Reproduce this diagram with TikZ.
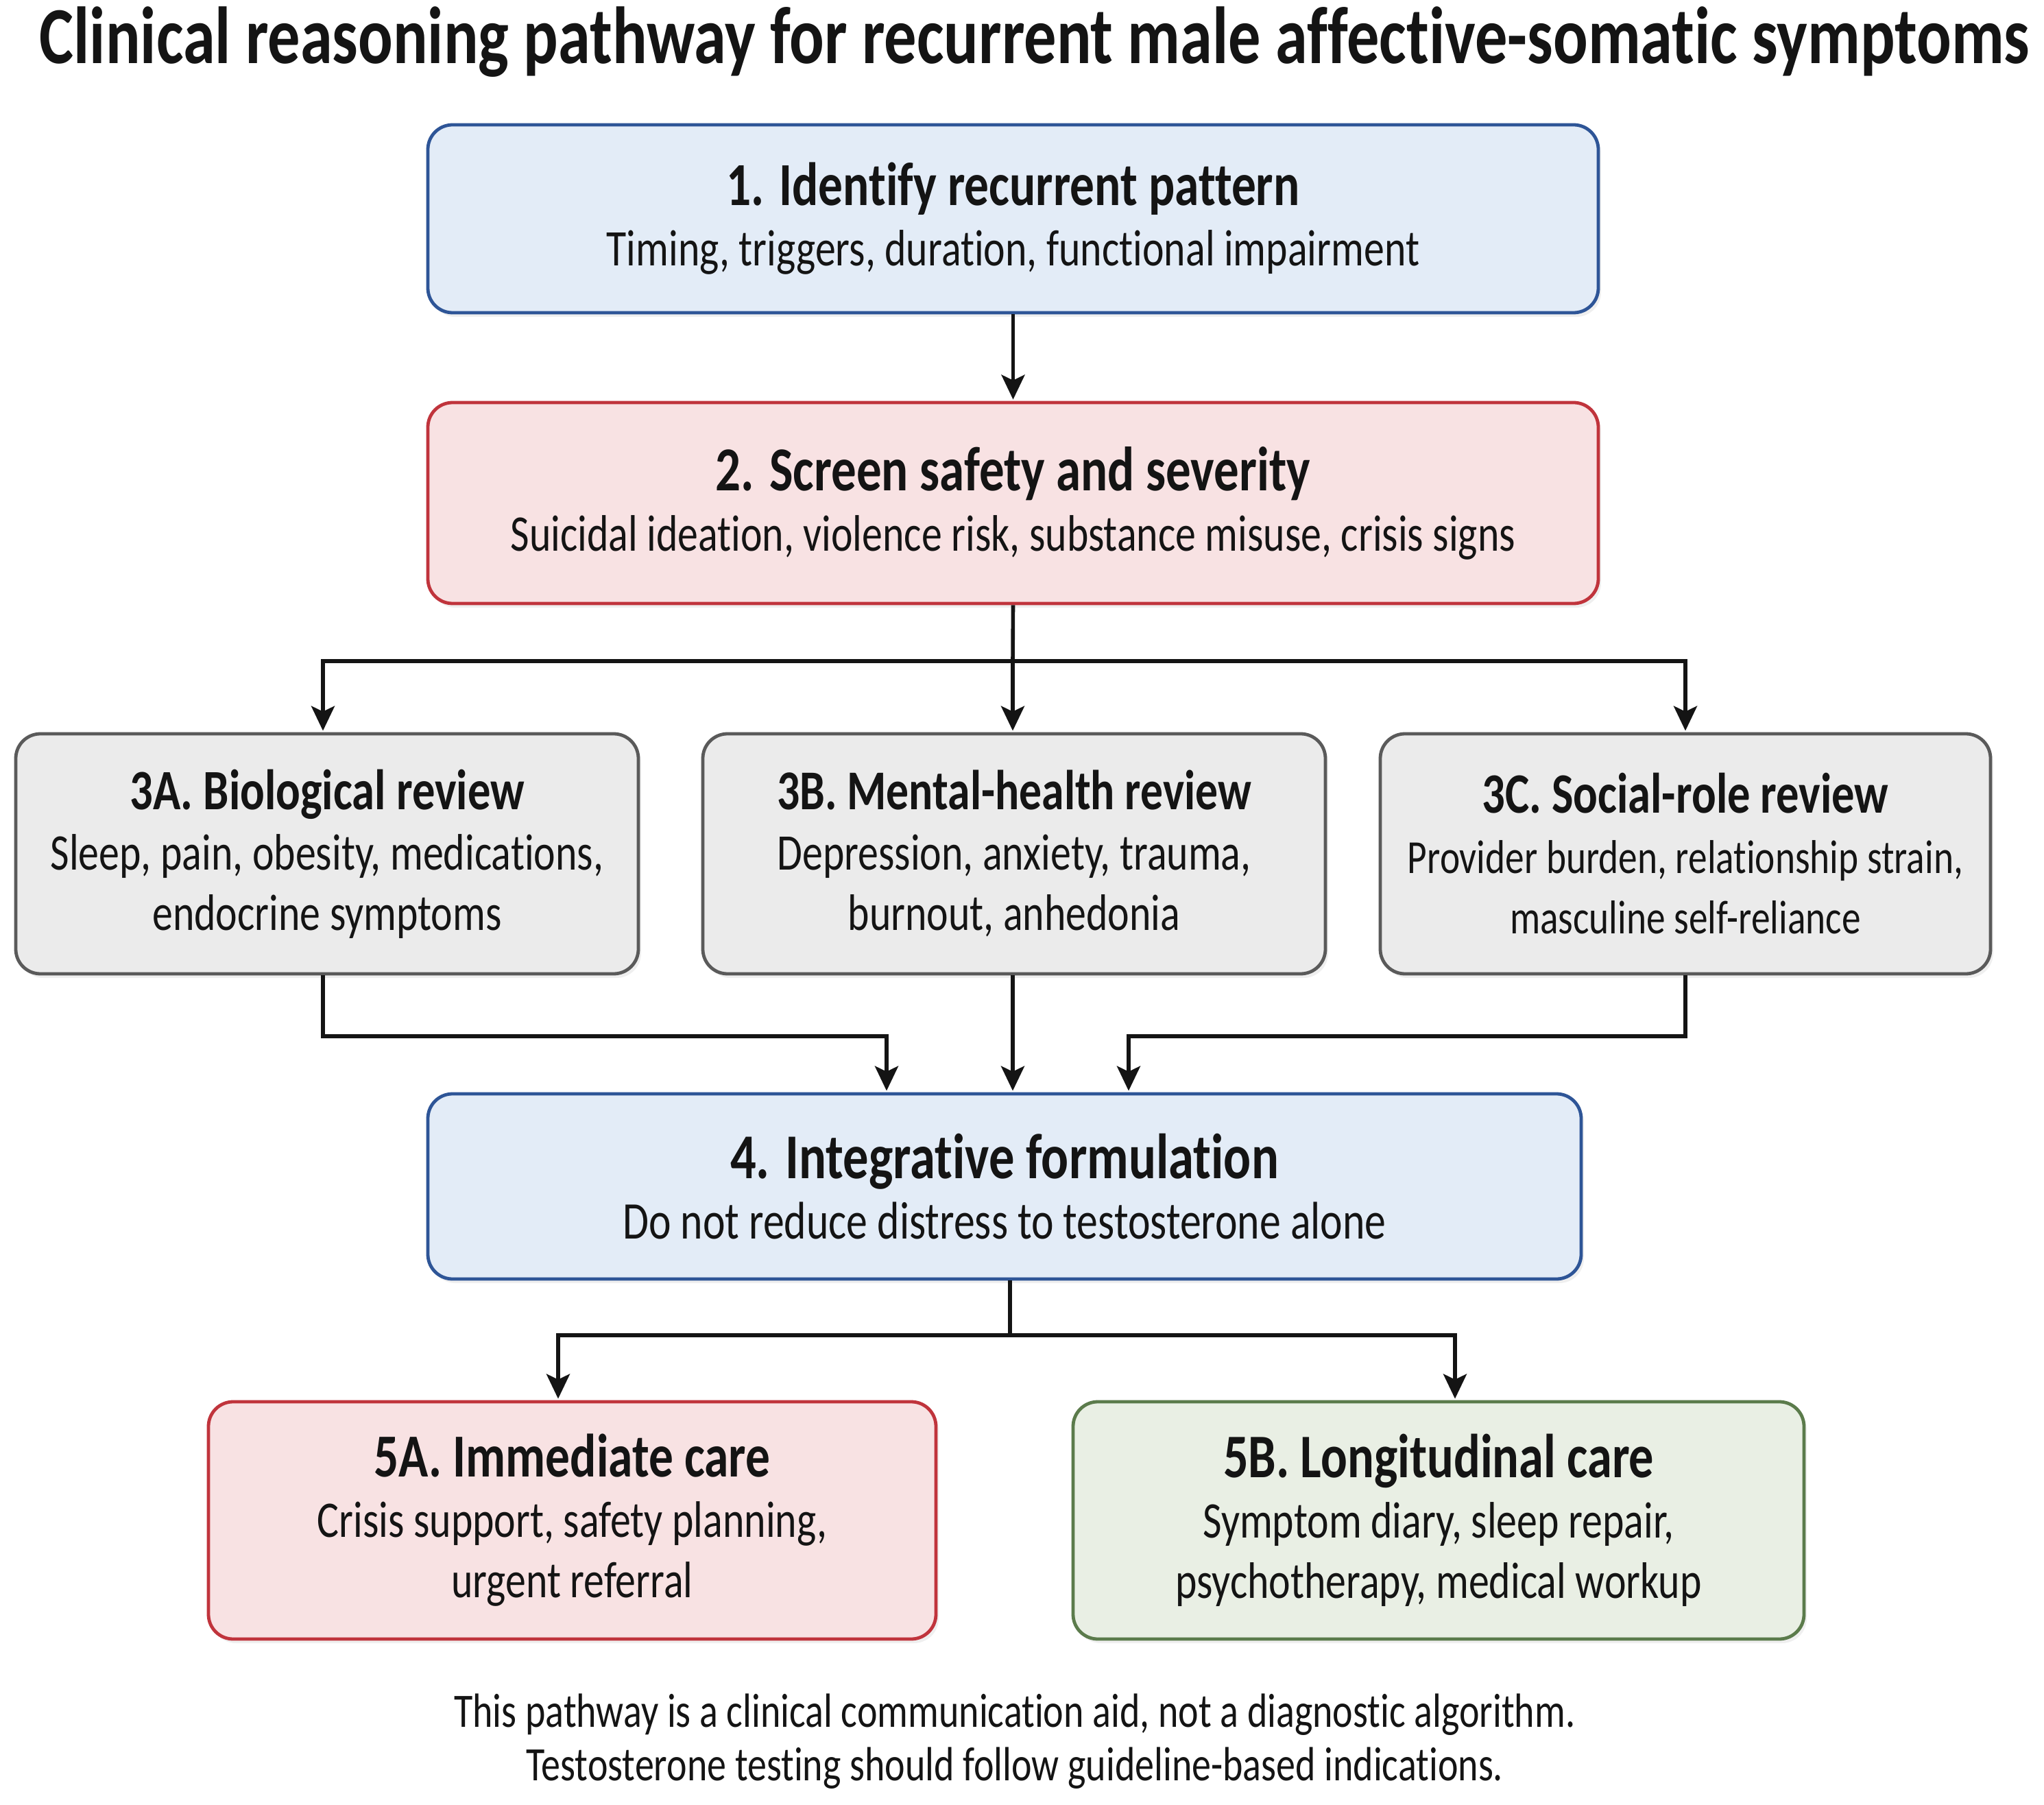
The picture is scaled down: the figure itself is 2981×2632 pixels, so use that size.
\documentclass[tikz,border=0pt]{standalone}
\usepackage{fontspec}
\setmainfont{Carlito}[FakeStretch=0.8,Ligatures=NoCommon]
\usetikzlibrary{arrows.meta,shadows}
\definecolor{blueFill}{HTML}{E3ECF7}
\definecolor{blueLine}{HTML}{2E5597}
\definecolor{redFill}{HTML}{F8E2E3}
\definecolor{redLine}{HTML}{C0343C}
\definecolor{grayFill}{HTML}{EBEBEB}
\definecolor{grayLine}{HTML}{5A5A5A}
\definecolor{greenFill}{HTML}{E9EFE4}
\definecolor{greenLine}{HTML}{5B7B4B}
\definecolor{inkc}{HTML}{141414}
\newcommand\boxhead[2][22.3]{{\fontsize{#1}{22}\selectfont\bfseries #2}}
\begin{document}
\begin{tikzpicture}[x=0.25pt,y=-0.25pt,
  box/.style={draw, rounded corners=9pt, line width=1.2pt, align=center,
    inner sep=0pt, text=inkc, font=\fontsize{18.7}{22}\selectfont,
    drop shadow={shadow xshift=1pt, shadow yshift=-1.5pt, opacity=0.12}},
  bluebox/.style={box, fill=blueFill, draw=blueLine},
  redbox/.style={box, fill=redFill, draw=redLine},
  graybox/.style={box, fill=grayFill, draw=grayLine},
  greenbox/.style={box, fill=greenFill, draw=greenLine},
  arr/.style={-{Stealth[length=9pt,width=8.5pt,inset=2pt]}, line width=1.4pt, draw=inkc, shorten >=0.5pt},
  ln/.style={line width=1.4pt, draw=inkc}]
\path[use as bounding box, fill=white] (0,0) rectangle (2981,2632);

\node[text=inkc, font=\fontsize{29.5}{32}\selectfont\bfseries] (title) at (1509,61)
  {Clinical reasoning pathway for recurrent male affective-somatic symptoms};

\node[bluebox, minimum width=426.75pt, minimum height=68.5pt] (b1) at (1477.5,319)
  {\boxhead{1. Identify recurrent pattern}\\Timing, triggers, duration, functional impairment};
\node[redbox, minimum width=426.75pt, minimum height=73.25pt] (b2) at (1477.5,733.5)
  {\boxhead[22.8]{2. Screen safety and severity}\\Suicidal ideation, violence risk, substance misuse, crisis signs};

\node[graybox, minimum width=227pt, minimum height=87.5pt] (b3a) at (477,1245)
  {\boxhead[20.8]{3A. Biological review}\\Sleep, pain, obesity, medications,\\endocrine symptoms};
\node[graybox, minimum width=227pt, minimum height=87.5pt] (b3b) at (1479,1245)
  {\boxhead[20.5]{3B. Mental-health review}\\Depression, anxiety, trauma,\\burnout, anhedonia};
\node[graybox, minimum width=222.5pt, minimum height=87.5pt, font=\fontsize{17.3}{22}\selectfont] (b3c) at (2458,1245)
  {\boxhead[20.8]{3C. Social-role review}\\Provider burden, relationship strain,\\masculine self-reliance};

\node[bluebox, minimum width=420.5pt, minimum height=67.5pt] (b4) at (1465,1730)
  {\boxhead[23.3]{4. Integrative formulation}\\{\fontsize{19.3}{22}\selectfont Do not reduce distress to testosterone alone}};

\node[redbox, minimum width=265.25pt, minimum height=86.5pt] (b5a) at (834.5,2217)
  {\boxhead{5A. Immediate care}\\Crisis support, safety planning,\\urgent referral};
\node[greenbox, minimum width=266.5pt, minimum height=86.5pt] (b5b) at (2098,2217)
  {\boxhead[22.6]{5B. Longitudinal care}\\Symptom diary, sleep repair,\\psychotherapy, medical workup};

\node[text=inkc, align=center, font=\fontsize{17.5}{19.5}\selectfont] (foot) at (1480,2539)
  {This pathway is a clinical communication aid, not a diagnostic algorithm.\\Testosterone testing should follow guideline-based indications.};

% connectors
\draw[arr] (b1.south) -- (b2.north);
\coordinate (j1) at (1477,964);
\coordinate (l3a) at (471,964);
\coordinate (r3c) at (2458,964);
\draw[ln] (b2.south) -- (j1);
\draw[arr] (j1) -- (l3a) -- (l3a |- b3a.north);
\draw[arr] (j1) -- (j1 |- b3b.north);
\draw[arr] (j1) -- (r3c) -- (r3c |- b3c.north);

\coordinate (m1) at (1293,1511);
\coordinate (m3) at (1646,1511);
\draw[arr] (b3a.south -| l3a) |- (m1) -- (m1 |- b4.north);
\draw[arr] (b3b.south -| j1) -- (j1 |- b4.north);
\draw[arr] (b3c.south) |- (m3) -- (m3 |- b4.north);

\coordinate (j2) at (1473,1947);
\coordinate (a5) at (814,1947);
\coordinate (c5) at (2122,1947);
\draw[ln] (b4.south -| j2) -- (j2);
\draw[arr] (j2) -- (a5) -- (a5 |- b5a.north);
\draw[arr] (j2) -- (c5) -- (c5 |- b5b.north);
\end{tikzpicture}
\end{document}
